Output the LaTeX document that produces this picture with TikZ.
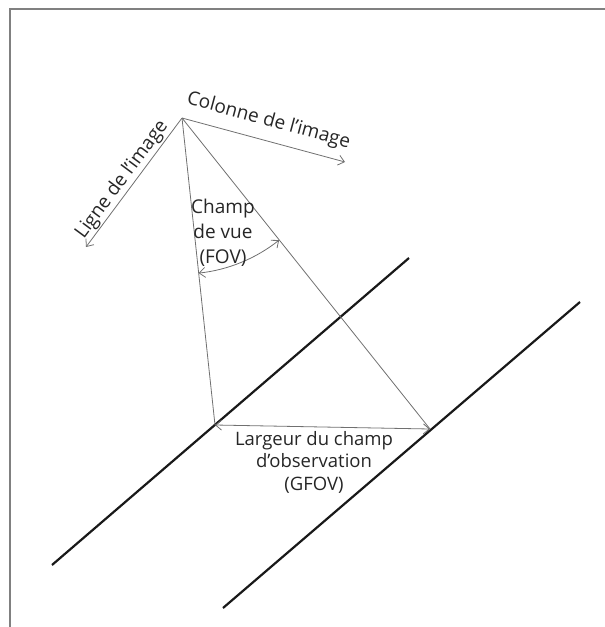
\documentclass[tikz,border=0pt]{standalone}
\usepackage{fontspec}
\setmainfont{Open Sans}
\usetikzlibrary{arrows.meta,calc}
\definecolor{framegray}{HTML}{808080}
\definecolor{thingray}{HTML}{707070}
\definecolor{txtgray}{HTML}{262626}
\tikzset{
  frameline/.style={draw=framegray,line width=2pt},
  thinline/.style={draw=thingray,line width=0.8pt},
  thickline/.style={draw=black!90,line width=2.2pt},
  barb/.style={thinline,-{Straight Barb[length=6pt,width=10pt,line width=0.8pt]}},
  dbarb/.style={thinline,{Straight Barb[length=6pt,width=10pt,line width=0.8pt]}-{Straight Barb[length=6pt,width=10pt,line width=0.8pt]}},
  lbl/.style={text=txtgray,font=\fontsize{19}{22.5}\selectfont,inner sep=0pt,align=center}
}
\begin{document}
\begin{tikzpicture}[x=1pt,y=1pt]
\useasboundingbox (0,-627) rectangle (605,0);
% frame
\draw[frameline] (9.5,-627) -- (9.5,-9) -- (605,-9);
% points
\coordinate (apex) at (182,-118);
\coordinate (colEnd) at (345,-162);
\coordinate (ligEnd) at (86,-247);
\coordinate (gL) at (215,-425);
\coordinate (gR) at (430,-429);
\coordinate (a1) at (52,-565);
\coordinate (a2) at (409,-258);
\coordinate (b1) at (223,-608);
\coordinate (b2) at (580,-302);
% thick parallel lines
\draw[thickline] (a1) -- (a2);
\draw[thickline] (b1) -- (b2);
% axes
\draw[barb] (apex) -- (colEnd);
\draw[barb] (apex) -- (ligEnd);
% FOV lines
\draw[thinline] (apex) -- (gL);
\draw[thinline] (apex) -- (gR);
% FOV arc
\coordinate (arcL) at ($(apex)+(-83.9:156)$);
\draw[dbarb] (arcL) arc[start angle=-83.9,end angle=-51.5,radius=156];
% GFOV arrow
\draw[dbarb] (gL) -- (gR);
% labels
\node[lbl,rotate=-15.2] (colLbl) at (268.5,-121) {Colonne de l’image};
\node[lbl,rotate=53.5] (ligLbl) at (122,-180) {Ligne de l’image};
\node[lbl,font=\fontsize{19}{25}\selectfont] (fovLbl) at (223,-233) {Champ\\de vue\\(FOV)};
\node[lbl,font=\fontsize{18.5}{22.5}\selectfont] (gfovLbl) at (314,-462) {Largeur du champ\\d’observation\\(GFOV)};
\end{tikzpicture}
\end{document}
